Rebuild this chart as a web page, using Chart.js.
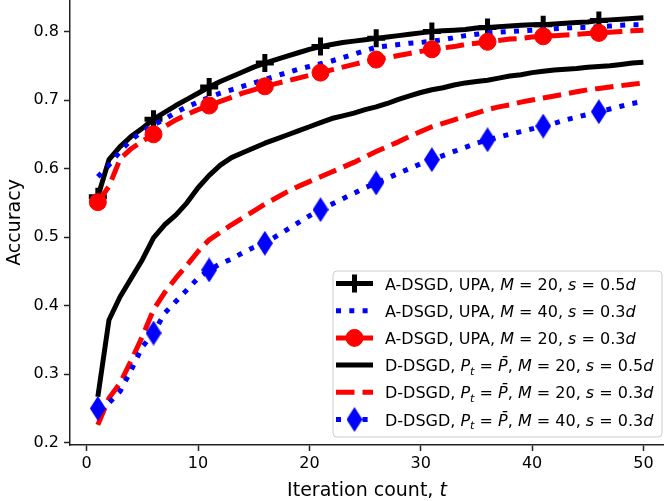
<!DOCTYPE html>
<html>
<head>
<meta charset="utf-8">
<script src="https://cdn.jsdelivr.net/npm/chart.js@4.4.0/dist/chart.umd.min.js"></script>
<style>
  html, body { margin: 0; padding: 0; background: #fff; overflow: hidden; }
  #wrap { width: 664px; height: 501px; }
</style>
</head>
<body>
<div id="wrap"><canvas id="accChart" width="664" height="501"></canvas></div>
<script>
// iteration count t
const iterations = [1, 2, 3, 4, 5, 6, 7, 8, 9, 10, 11, 12, 13, 14, 15, 16, 17, 18, 19, 20,
  21, 22, 23, 24, 25, 26, 27, 28, 29, 30, 31, 32, 33, 34, 35, 36, 37, 38, 39, 40,
  41, 42, 43, 44, 45, 46, 47, 48, 49, 50];

// legend labels, $...$ = math italic, _ = subscript
const seriesLabels = [
  'A-DSGD, UPA, $M$ = 20, $s$ = 0.5$d$',
  'A-DSGD, UPA, $M$ = 40, $s$ = 0.3$d$',
  'A-DSGD, UPA, $M$ = 20, $s$ = 0.3$d$',
  'D-DSGD, $P_t$ = $P\u0304$, $M$ = 20, $s$ = 0.5$d$',
  'D-DSGD, $P_t$ = $P\u0304$, $M$ = 20, $s$ = 0.3$d$',
  'D-DSGD, $P_t$ = $P\u0304$, $M$ = 40, $s$ = 0.3$d$'
];

const adsgdM20s05 = [0.559, 0.613, 0.632, 0.647, 0.659, 0.672, 0.682, 0.692, 0.701, 0.710,
  0.719, 0.727, 0.734, 0.741, 0.748, 0.754, 0.759, 0.764, 0.769, 0.774,
  0.778, 0.781, 0.784, 0.786, 0.788, 0.790, 0.792, 0.794, 0.796, 0.798,
  0.800, 0.801, 0.802, 0.803, 0.805, 0.806, 0.807, 0.808, 0.809, 0.810,
  0.810, 0.811, 0.812, 0.813, 0.814, 0.816, 0.817, 0.818, 0.819, 0.820];

const adsgdM40s03 = [0.588, 0.605, 0.625, 0.642, 0.654, 0.664, 0.672, 0.682, 0.690, 0.697,
  0.704, 0.710, 0.715, 0.720, 0.725, 0.730, 0.735, 0.740, 0.745, 0.749,
  0.753, 0.757, 0.762, 0.767, 0.772, 0.777, 0.779, 0.781, 0.783, 0.784,
  0.786, 0.788, 0.791, 0.794, 0.796, 0.798, 0.799, 0.800, 0.801, 0.802,
  0.803, 0.804, 0.805, 0.806, 0.806, 0.807, 0.808, 0.809, 0.810, 0.810];

const adsgdM20s03 = [0.551, 0.574, 0.614, 0.629, 0.640, 0.650, 0.661, 0.671, 0.679, 0.686,
  0.692, 0.698, 0.704, 0.710, 0.715, 0.720, 0.724, 0.728, 0.732, 0.736,
  0.740, 0.744, 0.748, 0.752, 0.756, 0.759, 0.762, 0.765, 0.768, 0.771,
  0.774, 0.776, 0.778, 0.781, 0.783, 0.785, 0.787, 0.789, 0.790, 0.792,
  0.793, 0.794, 0.795, 0.796, 0.797, 0.798, 0.799, 0.800, 0.801, 0.802];

const ddsgdM20s05 = [0.267, 0.379, 0.413, 0.440, 0.467, 0.499, 0.518, 0.532, 0.550, 0.572,
  0.590, 0.605, 0.616, 0.623, 0.630, 0.637, 0.643, 0.649, 0.655, 0.661,
  0.667, 0.673, 0.677, 0.681, 0.686, 0.690, 0.695, 0.701, 0.706, 0.711,
  0.715, 0.718, 0.722, 0.725, 0.727, 0.729, 0.732, 0.735, 0.737, 0.740,
  0.742, 0.744, 0.745, 0.746, 0.748, 0.749, 0.750, 0.752, 0.754, 0.755];

const ddsgdM20s03 = [0.226, 0.265, 0.287, 0.320, 0.355, 0.394, 0.419, 0.440, 0.459, 0.479,
  0.496, 0.507, 0.518, 0.528, 0.538, 0.548, 0.557, 0.566, 0.574, 0.581,
  0.588, 0.595, 0.602, 0.609, 0.617, 0.625, 0.632, 0.639, 0.647, 0.654,
  0.661, 0.666, 0.671, 0.676, 0.681, 0.686, 0.690, 0.693, 0.697, 0.700,
  0.703, 0.706, 0.709, 0.712, 0.715, 0.717, 0.719, 0.721, 0.723, 0.725];

const ddsgdM40s03 = [0.250, 0.258, 0.275, 0.306, 0.340, 0.360, 0.389, 0.406, 0.423, 0.440,
  0.452, 0.461, 0.468, 0.477, 0.485, 0.491, 0.501, 0.511, 0.521, 0.531,
  0.540, 0.548, 0.556, 0.564, 0.572, 0.579, 0.586, 0.593, 0.600, 0.607,
  0.613, 0.619, 0.625, 0.631, 0.637, 0.642, 0.646, 0.650, 0.654, 0.658,
  0.662, 0.666, 0.671, 0.675, 0.679, 0.683, 0.687, 0.691, 0.695, 0.698];

const FONT = '"DejaVu Sans", Verdana, sans-serif';

// thin diamond marker (matplotlib 'd')
function thinDiamond(w, h, color) {
  const c = document.createElement('canvas');
  c.width = w; c.height = h;
  const g = c.getContext('2d');
  g.fillStyle = color;
  g.beginPath();
  g.moveTo(w / 2, 0);
  g.lineTo(w, h / 2);
  g.lineTo(w / 2, h);
  g.lineTo(0, h / 2);
  g.closePath();
  g.fill();
  return c;
}

const everyFifth = r => ctx => (ctx.dataIndex % 5 === 0 ? r : 0);
const toPoints = vals => iterations.map((t, i) => ({ x: t, y: vals[i] }));
const plainLabel = s => s.replace(/\$/g, '').replace(/_/g, '');

const styles = [
  { values: adsgdM20s05, color: '#000000', dash: [], marker: 'cross', radius: 9, markerWidth: 5 },
  { values: adsgdM40s03, color: '#0000ff', dash: [5, 8.3], marker: false },
  { values: adsgdM20s03, color: '#ff0000', dash: [18.5, 8], marker: 'circle', radius: 8.5, markerWidth: 1 },
  { values: ddsgdM20s05, color: '#000000', dash: [], marker: false },
  { values: ddsgdM20s03, color: '#ff0000', dash: [18.5, 8], marker: false },
  { values: ddsgdM40s03, color: '#0000ff', dash: [5, 8.3], marker: thinDiamond(16, 25, '#0000ff'), radius: 9, markerWidth: 0 }
];

const datasets = styles.map((s, i) => ({
  label: plainLabel(seriesLabels[i]),
  data: toPoints(s.values),
  borderColor: s.color,
  backgroundColor: s.color,
  borderWidth: 5,
  borderDash: s.dash,
  borderCapStyle: 'butt',
  borderJoinStyle: 'round',
  fill: false,
  tension: 0,
  order: styles.length - i,
  pointStyle: s.marker || 'circle',
  pointRadius: s.marker ? everyFifth(s.radius) : 0,
  pointHoverRadius: 0,
  pointBorderWidth: s.markerWidth || 0,
  pointBorderColor: s.color,
  pointBackgroundColor: s.color,
  _legend: s
}));

function parseRich(label) {
  const parts = label.split('$');
  const segs = [];
  parts.forEach((p, i) => {
    if (!p) return;
    if (i % 2 === 0) { segs.push({ text: p, italic: false }); return; }
    const [base, sub] = p.split('_');
    segs.push({ text: base, italic: true });
    if (sub) segs.push({ text: sub, italic: true, sub: true });
  });
  return segs;
}

function drawRich(ctx, label, x, y, size) {
  ctx.textBaseline = 'alphabetic';
  ctx.textAlign = 'left';
  parseRich(label).forEach(seg => {
    const fs = seg.sub ? size * 0.7 : size;
    ctx.font = (seg.italic ? 'italic ' : '') + fs + 'px ' + FONT;
    ctx.fillText(seg.text, x, seg.sub ? y + size * 0.22 : y);
    x += ctx.measureText(seg.text).width;
  });
  return x;
}

const boxLegend = {
  id: 'boxLegend',
  afterDraw(chart) {
    const ctx = chart.ctx;
    const bx = 333, by = 271, bw = 329, bh = 166;
    ctx.save();
    ctx.beginPath();
    ctx.roundRect(bx, by, bw, bh, 4);
    ctx.fillStyle = 'rgba(255,255,255,0.8)';
    ctx.fill();
    ctx.lineWidth = 1;
    ctx.strokeStyle = '#cccccc';
    ctx.stroke();

    chart.data.datasets.forEach((ds, i) => {
      const s = ds._legend;
      const cy = 283.5 + i * 27.2;
      ctx.setLineDash(s.dash);
      ctx.lineCap = 'butt';
      ctx.lineWidth = 5;
      ctx.strokeStyle = s.color;
      ctx.beginPath();
      ctx.moveTo(336, cy);
      ctx.lineTo(373, cy);
      ctx.stroke();
      ctx.setLineDash([]);
      if (s.marker) {
        ctx.fillStyle = s.color;
        ctx.lineWidth = s.markerWidth || 0;
        Chart.helpers.drawPoint(ctx, {
          pointStyle: s.marker, radius: s.radius, borderWidth: s.markerWidth || 0, rotation: 0
        }, 354.5, cy);
      }
      ctx.fillStyle = '#000';
      drawRich(ctx, seriesLabels[i], 385, cy + 6, 16);
    });

    // x-axis title with italic t
    const a = chart.chartArea;
    const xTitle = 'Iteration count, $t$';
    ctx.font = '19px ' + FONT;
    const w1 = ctx.measureText('Iteration count, ').width;
    ctx.font = 'italic 19px ' + FONT;
    const w2 = ctx.measureText('t').width;
    ctx.fillStyle = '#000';
    drawRich(ctx, xTitle, (a.left + a.right) / 2 - (w1 + w2) / 2, 496, 19);
    ctx.restore();
  }
};

new Chart(document.getElementById('accChart').getContext('2d'), {
  type: 'line',
  data: { datasets },
  options: {
    responsive: false,
    animation: false,
    devicePixelRatio: 1,
    layout: { padding: 0, autoPadding: false },
    plugins: { legend: { display: false }, tooltip: { enabled: false } },
    scales: {
      x: {
        type: 'linear',
        min: -1.5,
        max: 51.85,
        ticks: {
          stepSize: 10, includeBounds: false, color: '#000', padding: 3,
          font: { family: FONT, size: 16 }
        },
        grid: { drawOnChartArea: false, drawTicks: true, tickLength: 6, tickColor: '#222', tickWidth: 1.5 },
        border: { display: true, color: '#222', width: 1.5 },
        afterFit(s) { s.height = 56; s.paddingLeft = 0; s.paddingRight = 0; }
      },
      y: {
        min: 0.1966,
        max: 0.846,
        ticks: {
          stepSize: 0.1, includeBounds: false, color: '#000', padding: 5,
          font: { family: FONT, size: 16 },
          callback: v => v.toFixed(1)
        },
        title: {
          display: true, text: 'Accuracy', color: '#000',
          font: { family: FONT, size: 19 }, padding: { top: 4, bottom: 0 }
        },
        grid: { drawOnChartArea: false, drawTicks: true, tickLength: 6, tickColor: '#222', tickWidth: 1.5 },
        border: { display: true, color: '#222', width: 1.5 },
        afterFit(s) { s.width = 70; s.paddingTop = 0; s.paddingBottom = 0; }
      }
    }
  },
  plugins: [boxLegend]
});
</script>
</body>
</html>
